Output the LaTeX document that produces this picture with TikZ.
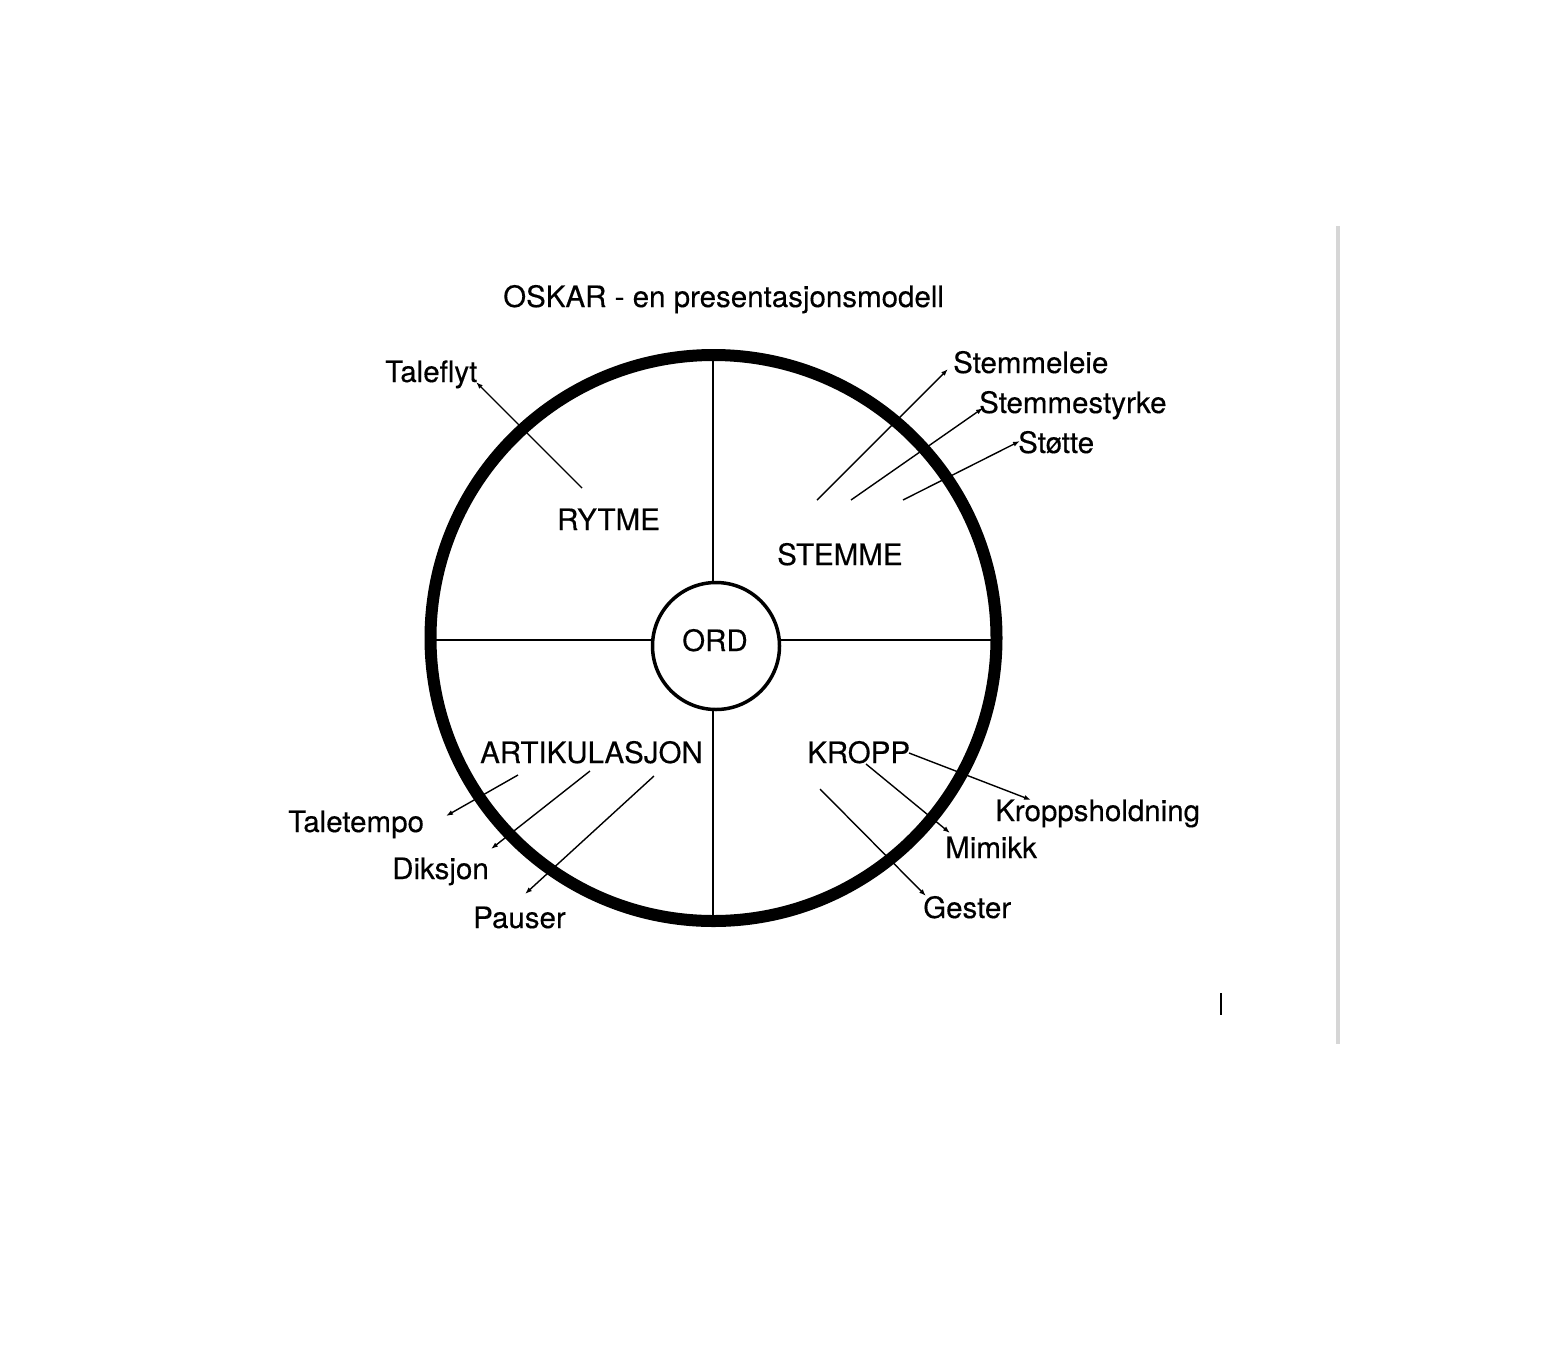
\documentclass[tikz,border=0pt]{standalone}
\usepackage{fontspec}
\setmainfont{TeX Gyre Heros}
\newfontfamily\lblfont[FakeBold=0.3]{TeX Gyre Heros}
\usetikzlibrary{arrows.meta}
\begin{document}
\begin{tikzpicture}[x=1pt,y=-1pt,
  lbl/.style={anchor=base west,inner sep=0pt,font=\lblfont\fontsize{29.5}{34}\selectfont},
  ptr/.style={line width=1.4pt,-{Latex[length=7pt,width=5pt]}},
  ring/.style={line width=12pt},
  cross/.style={line width=1.8pt}]
\useasboundingbox[fill=white] (0,0) rectangle (1556,1350);
% frame line and cursor
\draw[line width=3.5pt,color={rgb,255:red,214;green,214;blue,214}] (1338,226) -- (1338,1044);
\draw[line width=1.5pt] (1221,993) -- (1221,1015);
% title
\node[lbl] (title) at (503,307) {OSKAR - en presentasjonsmodell};
% big circle
\draw[ring] (713.5,638) circle[radius=283];
% inner circle
\node[draw,circle,line width=3.5pt,minimum size=127pt,inner sep=0pt] (ord) at (716,646) {};
\node[lbl] (ordlbl) at (682,651) {ORD};
% cross lines
\coordinate (ctop) at (713,360);
\coordinate (cbot) at (713,916);
\coordinate (cleft) at (436,640);
\coordinate (cright) at (991,640);
\draw[cross] (ctop) -- (713,582);
\draw[cross] (713,710) -- (cbot);
\draw[cross] (cleft) -- (652,640);
\draw[cross] (780,640) -- (cright);
% sector labels
\node[lbl] (rytme) at (557,530) {RYTME};
\node[lbl] (stemme) at (777,565) {STEMME};
\node[lbl] (artik) at (480,763) {ARTIKULASJON};
\node[lbl] (kropp) at (807,763) {KROPP};
% outer labels
\node[lbl] (taleflyt) at (385,382) {Taleflyt};
\node[lbl] (stemmeleie) at (953,373) {Stemmeleie};
\node[lbl] (stemmestyrke) at (979,413) {Stemmestyrke};
\node[lbl] (stotte) at (1018,453) {Støtte};
\node[lbl] (taletempo) at (288,832) {Taletempo};
\node[lbl] (diksjon) at (392,879) {Diksjon};
\node[lbl] (pauser) at (473,928) {Pauser};
\node[lbl] (kroppsh) at (995,821) {Kroppsholdning};
\node[lbl] (mimikk) at (945,858) {Mimikk};
\node[lbl] (gester) at (923,918) {Gester};
% arrow coordinates
\coordinate (a1s) at (582,488); \coordinate (a1e) at (476,382);
\coordinate (a2s) at (817,500); \coordinate (a2e) at (948,369);
\coordinate (a3s) at (851,500); \coordinate (a3e) at (983,408);
\coordinate (a4s) at (903,500); \coordinate (a4e) at (1020,441);
\coordinate (a5s) at (518,775); \coordinate (a5e) at (446,816);
\coordinate (a6s) at (590,771); \coordinate (a6e) at (491,849);
\coordinate (a7s) at (654,776); \coordinate (a7e) at (525,894);
\coordinate (a8s) at (909,753); \coordinate (a8e) at (1031,800);
\coordinate (a9s) at (866,764); \coordinate (a9e) at (950,833);
\coordinate (a10s) at (820,789); \coordinate (a10e) at (926,896);
\draw[ptr] (a1s) -- (a1e);
\draw[ptr] (a2s) -- (a2e);
\draw[ptr] (a3s) -- (a3e);
\draw[ptr] (a4s) -- (a4e);
\draw[ptr] (a5s) -- (a5e);
\draw[ptr] (a6s) -- (a6e);
\draw[ptr] (a7s) -- (a7e);
\draw[ptr] (a8s) -- (a8e);
\draw[ptr] (a9s) -- (a9e);
\draw[ptr] (a10s) -- (a10e);
\end{tikzpicture}
\end{document}
